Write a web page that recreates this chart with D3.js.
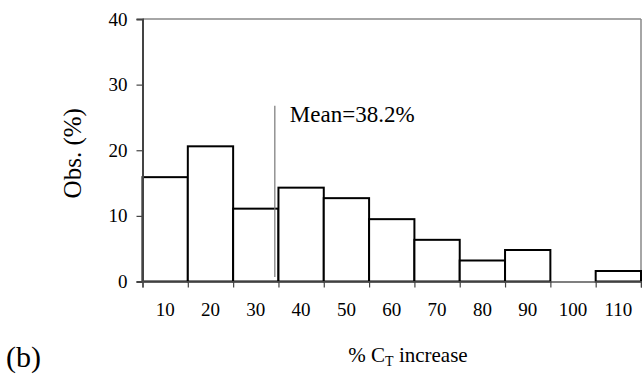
<!DOCTYPE html>
<html>
<head>
<meta charset="utf-8">
<script src="https://cdn.jsdelivr.net/npm/d3@7"></script>
<style>
  body { margin: 0; background: #fff; }
  svg text { font-family: "Liberation Serif", "Times New Roman", serif; fill: #000; }
</style>
</head>
<body>
<div id="chart"></div>
<script>
var width = 642, height = 379;

var categories = ["10","20","30","40","50","60","70","80","90","100","110"];
var obsPct = [15.9, 20.6, 11.1, 14.3, 12.7, 9.5, 6.35, 3.2, 4.8, 0, 1.6];
var yTicks = [0, 10, 20, 30, 40];
var meanLabel = "Mean=38.2%";
var meanLinePos = 34.2;       // where the marker sits on the bin-centre scale
var meanLineRange = [0.7, 26.8];

var plotLeft = 142.5, plotRight = 641, plotTop = 19, plotBottom = 281.5;

var xScale = d3.scaleBand().domain(categories).range([plotLeft, plotRight]).padding(0);
var xLin = d3.scaleLinear().domain([5, 115]).range([plotLeft, plotRight]);
var yScale = d3.scaleLinear().domain([0, 40]).range([plotBottom, plotTop]);

var svg = d3.select("#chart").append("svg")
    .attr("width", width)
    .attr("height", height);

// frame top/right
svg.append("line")
    .attr("x1", plotLeft).attr("x2", plotRight).attr("y1", plotTop).attr("y2", plotTop)
    .attr("stroke", "#888").attr("stroke-width", 1.5);
svg.append("line")
    .attr("x1", plotRight).attr("x2", plotRight).attr("y1", plotTop).attr("y2", plotBottom)
    .attr("stroke", "#888").attr("stroke-width", 1.5);

// bars
svg.selectAll("rect.bar")
    .data(obsPct)
    .enter().append("rect")
        .attr("class", "bar")
        .attr("x", function(d, i) { return xScale(categories[i]); })
        .attr("y", function(d) { return yScale(d); })
        .attr("width", xScale.bandwidth())
        .attr("height", function(d) { return plotBottom - yScale(d); })
        .attr("fill", "#fff")
        .attr("stroke", function(d) { return d > 0 ? "#000" : "none"; })
        .attr("stroke-width", 2);

// y axis
var yAxis = d3.axisLeft(yScale).tickValues(yTicks).tickSize(6).tickPadding(9);
var gy = svg.append("g")
    .attr("transform", "translate(" + plotLeft + ",0)")
    .call(yAxis);
gy.select(".domain").attr("stroke", "#444").attr("stroke-width", 2);
gy.selectAll(".tick line").attr("stroke", "#444").attr("stroke-width", 1.2);
gy.selectAll("text").style("font-size", "19px").attr("fill", "#000");

// x axis: ticks at bin edges, labels centred
var edges = d3.range(5, 116, 10);
var gx = svg.append("g")
    .attr("transform", "translate(0," + plotBottom + ")")
    .call(d3.axisBottom(xLin).tickValues(edges).tickSize(6).tickFormat(""));
gx.select(".domain").attr("stroke", "#555").attr("stroke-width", 1.5);
gx.selectAll(".tick line").attr("stroke", "#444").attr("stroke-width", 1.2);

var gxl = svg.append("g")
    .attr("transform", "translate(0," + plotBottom + ")")
    .call(d3.axisBottom(xScale).tickSize(0).tickPadding(21));
gxl.select(".domain").remove();
gxl.selectAll("text").style("font-size", "19px").attr("fill", "#000");

// mean marker
svg.append("line")
    .attr("x1", xLin(meanLinePos)).attr("x2", xLin(meanLinePos))
    .attr("y1", yScale(meanLineRange[0])).attr("y2", yScale(meanLineRange[1]))
    .attr("stroke", "#777").attr("stroke-width", 1.2);
svg.append("text")
    .attr("x", xLin(meanLinePos) + 15)
    .attr("y", yScale(24.3))
    .style("font-size", "23px")
    .text(meanLabel);

// axis titles
svg.append("text")
    .attr("transform", "translate(81," + ((plotTop + plotBottom) / 2 + 3) + ") rotate(-90)")
    .attr("text-anchor", "middle")
    .style("font-size", "25px")
    .text("Obs. (%)");

var xt = svg.append("text")
    .attr("x", 408)
    .attr("y", 362)
    .attr("text-anchor", "middle")
    .style("font-size", "21px");
xt.append("tspan").text("% C");
xt.append("tspan").attr("dy", 4).style("font-size", "14px").text("T");
xt.append("tspan").attr("dy", -4).text(" increase");

svg.append("text")
    .attr("x", 6)
    .attr("y", 367)
    .style("font-size", "30px")
    .text("(b)");
</script>
</body>
</html>
